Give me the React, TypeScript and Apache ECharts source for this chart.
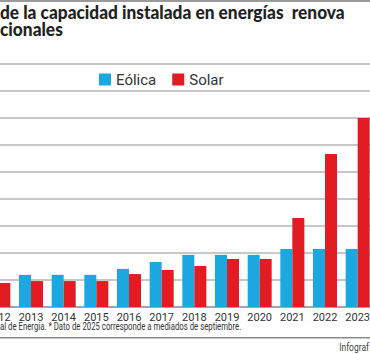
import React, { useEffect, useRef } from "react";
import * as echarts from "echarts";

const years = ["2012", "2013", "2014", "2015", "2016", "2017", "2018", "2019", "2020", "2021", "2022", "2023"];
const eolica = [1.0, 1.19, 1.19, 1.19, 1.41, 1.67, 1.93, 1.93, 1.93, 2.15, 2.15, 2.15];
const solar = [0.89, 0.96, 0.96, 0.96, 1.22, 1.37, 1.52, 1.78, 1.78, 3.3, 5.67, 7.0];
const titleLines = ["de la capacidad instalada en energías  renova", "cionales"];
const footnote = "al de Energía. * Dato de 2025 corresponde a mediados de septiembre.";
const credit = "Infograf";

const SANS = 'Roboto, "Liberation Sans", sans-serif';
const OX = 18; // chart canvas is shifted left by this many pixels

export default function App() {
  const ref = useRef<HTMLDivElement>(null);
  useEffect(() => {
    if (!ref.current) return;
    const chart = echarts.init(ref.current, undefined, { renderer: "svg" });
    chart.setOption({
      animation: false,
      backgroundColor: "#ffffff",
      legend: {
        left: 99 + OX,
        top: 72,
        padding: 0,
        itemWidth: 12,
        itemHeight: 12,
        itemGap: 16,
        icon: "rect",
        textStyle: { fontFamily: SANS, fontSize: 15, color: "#333" },
        data: ["Eólica", "Solar"],
      },
      grid: { left: 0, right: 0, top: 64, bottom: 47 },
      xAxis: {
        type: "category",
        data: years,
        axisTick: { show: false },
        axisLine: { lineStyle: { color: "#9a9a9a", width: 1.5 } },
        axisLabel: { fontFamily: SANS, fontSize: 11, color: "#333", margin: 5, interval: 0 },
      },
      yAxis: {
        type: "value",
        min: 0,
        max: 9,
        interval: 1,
        axisLabel: { show: false },
        axisLine: { show: false },
        axisTick: { show: false },
        splitLine: { lineStyle: { color: "#b4b4b4", width: 1.5 } },
      },
      series: [
        {
          name: "Eólica",
          type: "bar",
          data: eolica,
          barWidth: 12,
          barGap: "0%",
          itemStyle: { color: "#1ba8e0" },
        },
        {
          name: "Solar",
          type: "bar",
          data: solar,
          barWidth: 12,
          barGap: "0%",
          itemStyle: { color: "#e31b23" },
        },
      ],
      graphic: [
        { type: "rect", shape: { x: OX, y: 0, width: 370, height: 2 }, style: { fill: "#9a9a9a" } },
        {
          type: "text",
          x: OX,
          y: 2,
          scaleX: 0.91,
          style: {
            text: titleLines[0],
            fontFamily: "Lato, sans-serif",
            fontWeight: 900,
            fontSize: 19,
            fill: "#222",
            textVerticalAlign: "top",
          },
        },
        {
          type: "text",
          x: OX,
          y: 19,
          scaleX: 0.91,
          style: {
            text: titleLines[1],
            fontFamily: "Lato, sans-serif",
            fontWeight: 900,
            fontSize: 19,
            fill: "#222",
            textVerticalAlign: "top",
          },
        },
        {
          type: "text",
          x: OX,
          y: 327,
          scaleX: 0.78,
          style: {
            text: footnote,
            fontFamily: SANS,
            fontSize: 10,
            fill: "#333",
            textVerticalAlign: "middle",
          },
        },
        { type: "rect", shape: { x: OX, y: 337, width: 370, height: 1.5 }, style: { fill: "#8a8a8a" } },
        {
          type: "text",
          x: OX + 369,
          y: 347,
          scaleX: 0.85,
          style: {
            text: credit,
            fontFamily: SANS,
            fontSize: 10,
            fill: "#444",
            textAlign: "right",
            textVerticalAlign: "middle",
          },
        },
      ],
    });
    return () => chart.dispose();
  }, []);
  return (
    <div style={{ position: "fixed", left: 0, top: 0, width: 370, height: 354, overflow: "hidden", background: "#fff" }}>
      <div ref={ref} style={{ position: "absolute", left: -OX, top: 0, width: 392, height: 354 }} />
    </div>
  );
}
